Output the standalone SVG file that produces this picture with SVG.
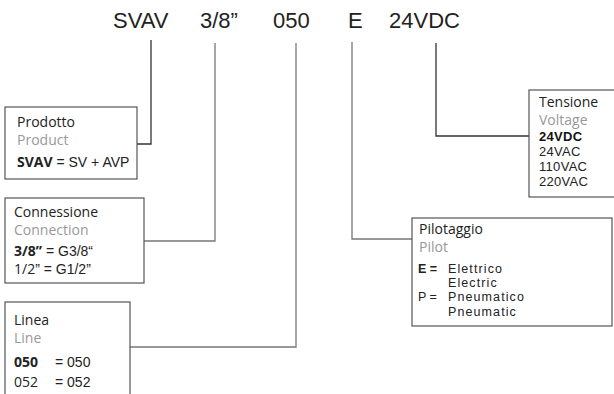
<svg xmlns="http://www.w3.org/2000/svg" width="614" height="394" viewBox="0 0 614 394">
<style>
.box{fill:#fff;stroke:#555;stroke-width:1.2}
.ln{fill:none;stroke:#333;stroke-width:1.3}
.lg{fill:none;stroke:#777;stroke-width:1.3}
.code{font-family:"Liberation Sans",Arial,sans-serif;font-size:22px;fill:#222}
.h{font-family:"Open Sans",sans-serif;font-size:14px;fill:#222}
.s{font-family:"Open Sans",sans-serif;font-size:14px;fill:#999}
.a{font-family:"Liberation Sans",Arial,sans-serif;font-size:14px;fill:#222}
.b{font-family:"Open Sans",sans-serif;font-size:14px;font-weight:bold;fill:#222}
.p{font-family:"Liberation Sans",Arial,sans-serif;font-size:12.5px;fill:#222;letter-spacing:1.1px}
.pb{font-family:"Liberation Sans",Arial,sans-serif;font-size:12.5px;font-weight:bold;fill:#222}
.pn{font-family:"Liberation Sans",Arial,sans-serif;font-size:12.5px;fill:#222}
.t{font-family:"Liberation Sans",Arial,sans-serif;font-size:13px;fill:#222;letter-spacing:0.3px}
.tb{font-family:"Liberation Sans",Arial,sans-serif;font-size:13px;font-weight:bold;fill:#111;letter-spacing:0.3px}
</style>
<g id="code">
<text class="code" x="113" y="28">SVAV</text>
<text class="code" x="200" y="28">3/8”</text>
<text class="code" x="273" y="28">050</text>
<text class="code" x="348" y="28">E</text>
<text class="code" x="389" y="28">24VDC</text>
</g>
<g id="connectors">
<polyline class="ln" points="151,40 151,144 137,144"/>
<polyline class="lg" points="215,43 215,241 144,241"/>
<polyline class="lg" points="296,43 296,347 130,347"/>
<polyline class="lg" points="352,42 352,239 412,239"/>
<polyline class="ln" points="436,43 436,136 529,136"/>
</g>
<g id="prodotto">
<rect class="box" x="5" y="107" width="132" height="72"/>
<text class="h" x="17" y="127">Prodotto</text>
<text class="s" x="17" y="145">Product</text>
<text x="17" y="167"><tspan class="b">SVAV</tspan><tspan class="a"> = SV + AVP</tspan></text>
</g>
<g id="connessione">
<rect class="box" x="5" y="198" width="139" height="85"/>
<text class="h" x="14" y="217">Connessione</text>
<text class="s" x="14" y="235">Connection</text>
<text x="14" y="256"><tspan class="b">3/8”</tspan><tspan class="a"> = G3/8“</tspan></text>
<text x="14" y="274"><tspan class="h">1/2</tspan><tspan class="a">” = G1/2”</tspan></text>
</g>
<g id="linea">
<rect class="box" x="5" y="302" width="125" height="100"/>
<text class="h" x="14" y="325">Linea</text>
<text class="s" x="14" y="343">Line</text>
<text class="b" x="14" y="367">050</text>
<text class="a" x="55" y="367">= 050</text>
<text class="h" x="14" y="387">052</text>
<text class="a" x="55" y="387">= 052</text>
</g>
<g id="pilotaggio">
<rect class="box" x="412" y="218" width="200" height="108"/>
<text class="h" x="419" y="234">Pilotaggio</text>
<text class="s" x="419" y="252">Pilot</text>
<text class="pb" x="418" y="273">E =</text>
<text class="p" x="448" y="273">Elettrico</text>
<text class="p" x="448" y="287">Electric</text>
<text class="pn" x="418" y="301">P =</text>
<text class="p" x="448" y="301">Pneumatico</text>
<text class="p" x="448" y="316">Pneumatic</text>
</g>
<g id="tensione">
<rect class="box" x="529" y="90" width="100" height="107"/>
<text class="h" x="539" y="107">Tensione</text>
<text class="s" x="539" y="125">Voltage</text>
<text class="tb" x="539" y="141">24VDC</text>
<text class="t" x="539" y="156">24VAC</text>
<text class="t" x="539" y="171">110VAC</text>
<text class="t" x="539" y="186">220VAC</text>
</g>
</svg>
